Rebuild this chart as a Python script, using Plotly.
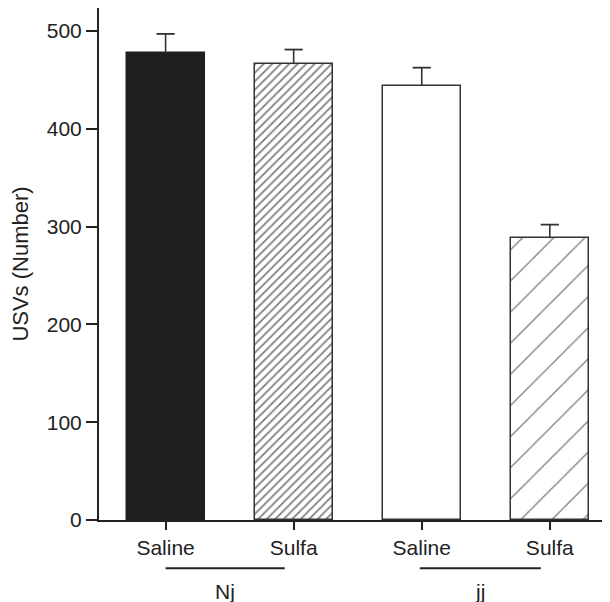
import plotly.graph_objects as go

categories = ["Saline", "Sulfa", "Saline", "Sulfa"]
groups = ["Nj", "jj"]
values = [477, 466, 444, 288]
errors_upper = [20, 15, 18.5, 14]
yticks = [0, 100, 200, 300, 400, 500]

xpos = list(range(len(categories)))
fills = ["#1e1f21", "white", "white", "white"]
edges = ["#1e1f21", "#333333", "#333333", "#333333"]
patterns = [None, dict(shape="/", size=6, solidity=0.3, fgcolor="#000000"),
            None, dict(shape="/", size=22, solidity=0.06, fgcolor="#000000")]

fig = go.Figure()
for i in xpos:
    marker = dict(color=fills[i], line=dict(color=edges[i], width=1.5))
    if patterns[i] is not None:
        marker["pattern"] = patterns[i]
    fig.add_trace(go.Bar(x=[xpos[i]], y=[values[i]], width=0.61, marker=marker,
                         showlegend=False))

# upper error bars: whisker + cap, built from the data
tops = [v + e for v, e in zip(values, errors_upper)]
wx, wy = [], []
for i in xpos:
    wx += [xpos[i], xpos[i], None]
    wy += [values[i], tops[i], None]
fig.add_trace(go.Scatter(x=wx, y=wy, mode="lines",
                         line=dict(color="#333333", width=1.6), showlegend=False))
fig.add_trace(go.Scatter(x=xpos, y=tops, mode="markers",
                         marker=dict(symbol="line-ew", size=13,
                                     line=dict(color="#333333", width=1.8)),
                         showlegend=False))

font = dict(family="Liberation Sans, Arial, sans-serif", size=21, color="#222222")

# group lines and labels
group_spans = [(0, 0.93), (1.985, 2.93)]
for (x0, x1), g in zip(group_spans, groups):
    fig.add_shape(type="line", xref="x", yref="paper", x0=x0, x1=x1,
                  y0=-0.0944, y1=-0.0944, line=dict(color="#222222", width=2))
    fig.add_annotation(x=(x0 + x1) / 2, xref="x", y=-0.1406, yref="paper",
                       text=g, showarrow=False, font=font, yanchor="middle")

fig.update_layout(
    width=602, height=594,
    margin=dict(l=91, r=0, t=0, b=82),
    plot_bgcolor="white", paper_bgcolor="white",
    font=font,
    bargap=0,
)
fig.update_xaxes(
    range=[-0.52, 3.47], tickvals=xpos, ticktext=categories,
    showline=True, linecolor="#222222", linewidth=2,
    ticks="outside", ticklen=8, tickwidth=2, tickcolor="#222222",
    showgrid=False, zeroline=False, tickfont=font,
)
fig.update_yaxes(
    range=[0, 523.5], tickvals=yticks,
    showline=True, linecolor="#222222", linewidth=2,
    ticks="outside", ticklen=11, tickwidth=2, tickcolor="#222222",
    showgrid=False, zeroline=False, tickfont=font,
    title=dict(text="USVs (Number)", font=dict(family=font["family"], size=22, color="#222222"), standoff=16),
)
fig.write_html("out.html")
